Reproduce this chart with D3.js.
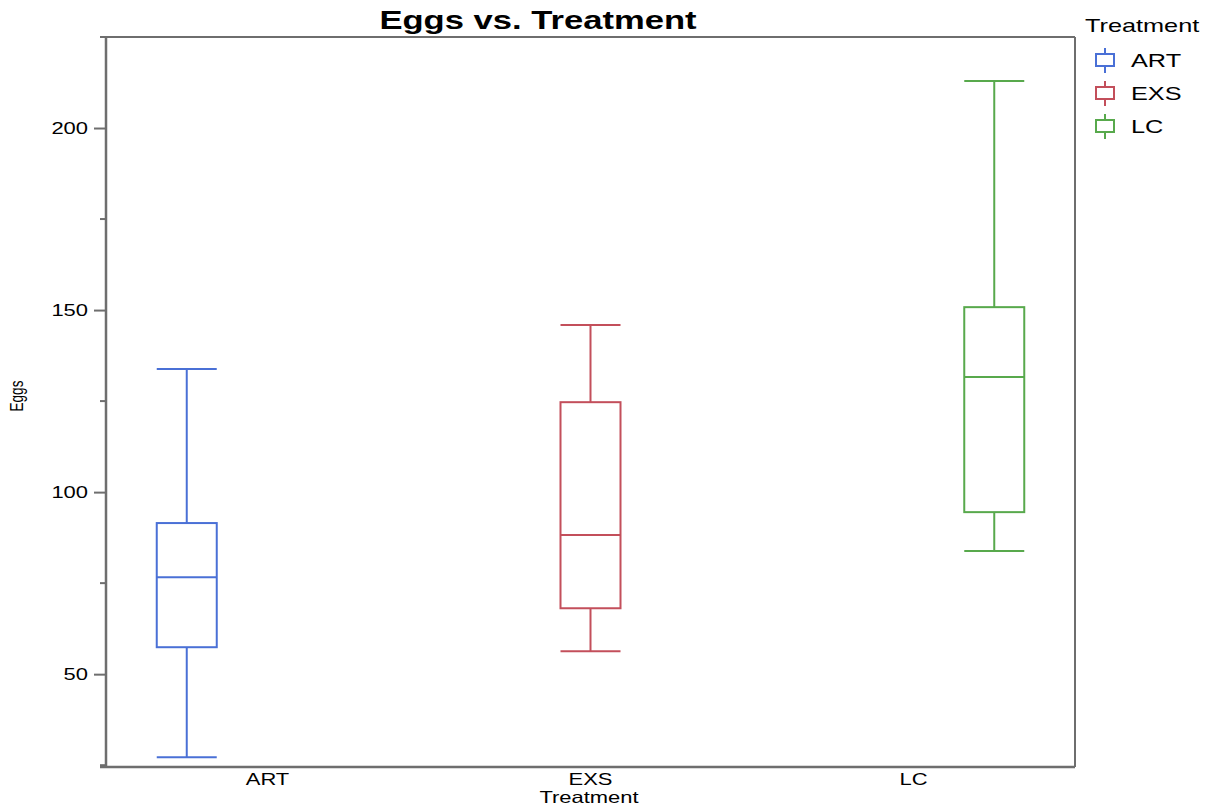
<!DOCTYPE html>
<html>
<head>
<meta charset="utf-8">
<script src="https://cdn.jsdelivr.net/npm/d3@7"></script>
<style>
  body { margin: 0; background: #fff; }
  text { font-family: "Liberation Sans", Arial, sans-serif; fill: #000; }
</style>
</head>
<body>
<div id="chart"></div>
<script>
var svgWidth = 1208;
var svgHeight = 808;

var leftMargin = 106;
var topMargin = 37;
var plotRight = 1075;
var plotBottom = 767;

var chartWidth = plotRight - leftMargin;
var chartHeight = plotBottom - topMargin;

// data
var treatments = ['ART', 'EXS', 'LC'];
var whiskerLow = [27.2, 56.3, 83.8];
var q1 = [57.4, 68.1, 94.5];
var median = [76.6, 88.2, 131.6];
var q3 = [91.5, 124.7, 150.8];
var whiskerHigh = [133.8, 145.9, 212.9];
var colors = ['#4a70d6', '#c34f5b', '#58a94c'];
var majorTicks = [50, 100, 150, 200];
var minorTicks = [25, 75, 125, 175];

var boxes = treatments.map(function(t, i) {
    return {name: t, lo: whiskerLow[i], q1: q1[i], med: median[i], q3: q3[i], hi: whiskerHigh[i], color: colors[i]};
});

// the original picture is a bit wider than tall, so text is stretched sideways
var stretchX = 1.33;
function stretch(sel) {
    sel.each(function() {
        var w = this.getComputedTextLength();
        d3.select(this)
            .attr('textLength', w * stretchX)
            .attr('lengthAdjust', 'spacingAndGlyphs');
    });
}

var svg = d3.select('#chart')
    .append('svg')
    .attr('width', svgWidth)
    .attr('height', svgHeight);

var chart = svg.append('g')
    .attr('transform', `translate(${leftMargin}, ${topMargin})`);

// boxes sit on a point scale, the tick labels on a band scale
var xScale = d3.scalePoint()
    .domain(treatments)
    .range([0, chartWidth])
    .padding(0.2);
var xLabelScale = d3.scaleBand()
    .domain(treatments)
    .range([0, chartWidth]);
var yScale = d3.scaleLinear()
    .domain([24.5, 225])
    .range([chartHeight, 0]);

var boxWidth = 60;
var axisColor = '#6e6e6e';

// frame: top and right
chart.append('line')
    .attr('x1', -6).attr('x2', chartWidth)
    .attr('y1', 0).attr('y2', 0)
    .attr('stroke', axisColor).attr('stroke-width', 2);
chart.append('line')
    .attr('x1', chartWidth).attr('x2', chartWidth)
    .attr('y1', 0).attr('y2', chartHeight)
    .attr('stroke', axisColor).attr('stroke-width', 2);

// y axis
var yAxis = d3.axisLeft(yScale)
    .tickValues(majorTicks)
    .tickSize(12)
    .tickPadding(6);
var yAxisG = chart.append('g').call(yAxis);
yAxisG.select('.domain').remove();
yAxisG.selectAll('.tick line').attr('stroke', axisColor).attr('stroke-width', 2);
yAxisG.selectAll('.tick text')
    .attr('font-size', 16.5)
    .attr('dy', '0.35em')
    .style('font-family', '"Liberation Sans", Arial, sans-serif')
    .call(stretch);

chart.append('g')
    .selectAll('line')
    .data(minorTicks)
    .enter()
    .append('line')
    .attr('x1', -6).attr('x2', 0)
    .attr('y1', d => yScale(d)).attr('y2', d => yScale(d))
    .attr('stroke', axisColor).attr('stroke-width', 2);

chart.append('line')
    .attr('x1', 0).attr('x2', 0)
    .attr('y1', 0).attr('y2', chartHeight)
    .attr('stroke', axisColor).attr('stroke-width', 2.5);

// x axis
var xAxis = d3.axisBottom(xLabelScale)
    .tickSize(0)
    .tickPadding(6);
var xAxisG = chart.append('g')
    .attr('transform', `translate(0, ${chartHeight})`)
    .call(xAxis);
xAxisG.select('.domain').remove();
xAxisG.selectAll('.tick text')
    .attr('font-size', 16.5)
    .style('font-family', '"Liberation Sans", Arial, sans-serif')
    .call(stretch);

chart.append('line')
    .attr('x1', -6).attr('x2', chartWidth)
    .attr('y1', chartHeight).attr('y2', chartHeight)
    .attr('stroke', axisColor).attr('stroke-width', 2.5);

// boxes
var boxG = chart.selectAll('.box')
    .data(boxes)
    .enter()
    .append('g')
    .attr('class', 'box')
    .attr('transform', d => `translate(${xScale(d.name)}, 0)`)
    .attr('stroke', d => d.color)
    .attr('stroke-width', 2)
    .attr('fill', 'none');

boxG.append('line')
    .attr('x1', 0).attr('x2', 0)
    .attr('y1', d => yScale(d.hi)).attr('y2', d => yScale(d.q3));
boxG.append('line')
    .attr('x1', 0).attr('x2', 0)
    .attr('y1', d => yScale(d.q1)).attr('y2', d => yScale(d.lo));
boxG.append('line')
    .attr('x1', -boxWidth/2).attr('x2', boxWidth/2)
    .attr('y1', d => yScale(d.hi)).attr('y2', d => yScale(d.hi));
boxG.append('line')
    .attr('x1', -boxWidth/2).attr('x2', boxWidth/2)
    .attr('y1', d => yScale(d.lo)).attr('y2', d => yScale(d.lo));
boxG.append('rect')
    .attr('x', -boxWidth/2)
    .attr('width', boxWidth)
    .attr('y', d => yScale(d.q3))
    .attr('height', d => yScale(d.q1) - yScale(d.q3));
boxG.append('line')
    .attr('x1', -boxWidth/2).attr('x2', boxWidth/2)
    .attr('y1', d => yScale(d.med)).attr('y2', d => yScale(d.med));

// title and axis labels
svg.append('text')
    .attr('x', 538)
    .attr('y', 29)
    .attr('text-anchor', 'middle')
    .attr('font-size', 26)
    .attr('font-weight', 'bold')
    .text('Eggs vs. Treatment')
    .call(stretch);

svg.append('text')
    .attr('x', 589)
    .attr('y', 803)
    .attr('text-anchor', 'middle')
    .attr('font-size', 16.5)
    .text('Treatment')
    .call(stretch);

svg.append('text')
    .attr('transform', `translate(23, 396) scale(${stretchX}, 1) rotate(-90)`)
    .attr('text-anchor', 'middle')
    .attr('font-size', 13.5)
    .text('Eggs');

// legend
var legend = svg.append('g')
    .attr('transform', 'translate(1085, 0)');

legend.append('text')
    .attr('x', 0)
    .attr('y', 32)
    .attr('font-size', 19)
    .text('Treatment')
    .call(stretch);

var item = legend.selectAll('.item')
    .data(boxes)
    .enter()
    .append('g')
    .attr('class', 'item')
    .attr('transform', (d, i) => `translate(0, ${60 + 33*i})`);

item.append('line')
    .attr('x1', 20).attr('x2', 20)
    .attr('y1', -12).attr('y2', 13)
    .attr('stroke', d => d.color)
    .attr('stroke-width', 2);
item.append('rect')
    .attr('x', 11).attr('y', -6)
    .attr('width', 18).attr('height', 12)
    .attr('fill', '#fff')
    .attr('stroke', d => d.color)
    .attr('stroke-width', 2);
item.append('text')
    .attr('x', 46)
    .attr('y', 7)
    .attr('font-size', 19)
    .text(d => d.name)
    .call(stretch);
</script>
</body>
</html>
